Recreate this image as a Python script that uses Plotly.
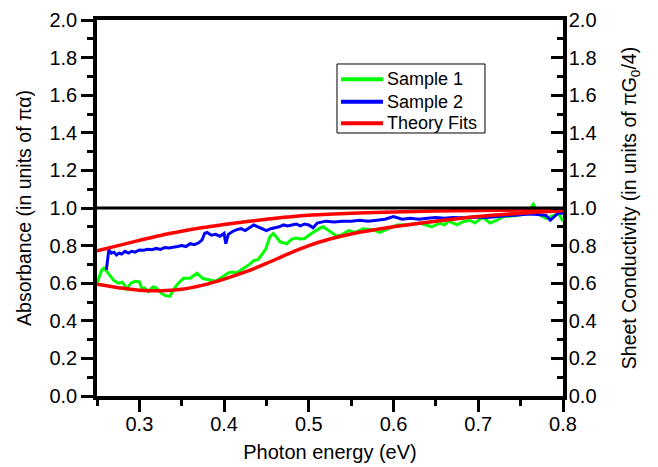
import plotly.graph_objects as go

# ---- data ----
green_x = [0.250, 0.253, 0.2555, 0.258, 0.262, 0.2693, 0.275, 0.280, 0.285, 0.290, 0.295, 0.300,
           0.303, 0.306, 0.3106, 0.316, 0.320, 0.326, 0.330, 0.336, 0.340, 0.346, 0.352, 0.360,
           0.368, 0.375, 0.383, 0.390, 0.400, 0.405, 0.410, 0.415, 0.420, 0.425, 0.430, 0.435,
           0.440, 0.445, 0.449, 0.454, 0.458, 0.462, 0.466, 0.470, 0.474, 0.480, 0.485, 0.490,
           0.495, 0.500, 0.505, 0.512, 0.517, 0.525, 0.533, 0.540, 0.547, 0.555, 0.564, 0.575,
           0.584, 0.594, 0.604, 0.615, 0.631, 0.645, 0.655, 0.660, 0.665, 0.675, 0.682, 0.690,
           0.696, 0.705, 0.714, 0.722, 0.730, 0.745, 0.757, 0.765, 0.770, 0.780, 0.788, 0.795, 0.800]
green_y = [0.60, 0.64, 0.67, 0.68, 0.66, 0.617, 0.60, 0.605, 0.57, 0.60, 0.61, 0.607,
           0.57, 0.575, 0.556, 0.58, 0.575, 0.547, 0.535, 0.53, 0.565, 0.60, 0.626, 0.626,
           0.653, 0.625, 0.617, 0.61, 0.64, 0.655, 0.66, 0.655, 0.67, 0.685, 0.70, 0.72,
           0.725, 0.755, 0.78, 0.847, 0.865, 0.845, 0.82, 0.815, 0.81, 0.835, 0.84, 0.835,
           0.838, 0.855, 0.87, 0.89, 0.90, 0.875, 0.85, 0.86, 0.88, 0.87, 0.89, 0.885,
           0.87, 0.89, 0.91, 0.91, 0.92, 0.90, 0.92, 0.91, 0.93, 0.91, 0.927, 0.935,
           0.92, 0.95, 0.92, 0.935, 0.955, 0.96, 0.97, 1.02, 0.97, 0.945, 0.96, 0.97, 0.93]

blue_x = [0.261, 0.2625, 0.264, 0.267, 0.270, 0.273, 0.276, 0.279, 0.283, 0.287, 0.291, 0.295,
          0.300, 0.305, 0.310, 0.315, 0.320, 0.325, 0.330, 0.335, 0.340, 0.345, 0.350, 0.355,
          0.360, 0.365, 0.370, 0.374, 0.377, 0.380, 0.385, 0.390, 0.395, 0.400, 0.402, 0.405,
          0.410, 0.415, 0.420, 0.425, 0.430, 0.435, 0.440, 0.445, 0.450, 0.455, 0.460, 0.465,
          0.470, 0.475, 0.480, 0.485, 0.490, 0.495, 0.500, 0.505, 0.510, 0.520, 0.530, 0.540,
          0.550, 0.560, 0.570, 0.580, 0.590, 0.600, 0.610, 0.620, 0.630, 0.640, 0.650, 0.660,
          0.670, 0.680, 0.690, 0.700, 0.710, 0.720, 0.730, 0.740, 0.750, 0.760, 0.770, 0.780,
          0.785, 0.790, 0.795, 0.800]
blue_y = [0.67, 0.74, 0.778, 0.76, 0.765, 0.75, 0.76, 0.755, 0.77, 0.76, 0.77, 0.765,
          0.777, 0.775, 0.78, 0.778, 0.785, 0.78, 0.79, 0.787, 0.79, 0.795, 0.80, 0.795,
          0.81, 0.805, 0.815, 0.83, 0.865, 0.87, 0.855, 0.86, 0.85, 0.865, 0.81, 0.86,
          0.875, 0.885, 0.89, 0.88, 0.895, 0.91, 0.90, 0.89, 0.88, 0.89, 0.895, 0.90,
          0.91, 0.905, 0.91, 0.915, 0.905, 0.915, 0.91, 0.895, 0.92, 0.93, 0.925, 0.93,
          0.93, 0.935, 0.93, 0.935, 0.94, 0.955, 0.94, 0.945, 0.94, 0.945, 0.95, 0.945,
          0.95, 0.948, 0.95, 0.952, 0.95, 0.955, 0.958, 0.96, 0.965, 0.968, 0.965, 0.96,
          0.935, 0.955, 0.975, 0.97]

fit_upper_x = [0.25, 0.275, 0.30, 0.325, 0.35, 0.375, 0.40, 0.425, 0.45, 0.475, 0.50, 0.55,
               0.60, 0.65, 0.70, 0.75, 0.80]
fit_upper_y = [0.772, 0.80, 0.828, 0.854, 0.876, 0.896, 0.912, 0.927, 0.94, 0.952, 0.962, 0.972,
               0.979, 0.984, 0.987, 0.989, 0.99]

fit_lower_x = [0.25, 0.275, 0.30, 0.325, 0.35, 0.375, 0.40, 0.425, 0.45, 0.475, 0.50, 0.525,
               0.55, 0.60, 0.65, 0.70, 0.75, 0.80]
fit_lower_y = [0.594, 0.576, 0.563, 0.560, 0.568, 0.590, 0.622, 0.66, 0.705, 0.755, 0.80, 0.835,
               0.862, 0.90, 0.93, 0.955, 0.972, 0.985]

ref_x = [0.25, 0.80]
ref_y = [1.0, 1.0]

series_names = ["Sample 1", "Sample 2", "Theory Fits"]
series_colors = ["#00ff00", "#0000ff", "#ff0000"]

FONT = "Liberation Sans, Arial, sans-serif"

fig = go.Figure()
fig.add_trace(go.Scatter(x=green_x, y=green_y, mode="lines", name=series_names[0],
                         line=dict(color=series_colors[0], width=3), showlegend=False))
fig.add_trace(go.Scatter(x=blue_x, y=blue_y, mode="lines", name=series_names[1],
                         line=dict(color=series_colors[1], width=3), showlegend=False))
fig.add_trace(go.Scatter(x=fit_upper_x, y=fit_upper_y, mode="lines", name=series_names[2],
                         line=dict(color=series_colors[2], width=3.5, shape="spline"),
                         legendgroup="fit", showlegend=False))
fig.add_trace(go.Scatter(x=fit_lower_x, y=fit_lower_y, mode="lines", name=series_names[2],
                         line=dict(color=series_colors[2], width=3.5, shape="spline"),
                         legendgroup="fit", showlegend=False))
fig.add_trace(go.Scatter(x=ref_x, y=ref_y, mode="lines", yaxis="y2", showlegend=False,
                         line=dict(color="black", width=3)))

# ---- legend box (drawn in paper coordinates) ----
leg_x0, leg_x1, leg_y0, leg_y1 = 0.515, 0.8326, 0.6995, 0.883
leg_line_x0, leg_line_x1, leg_text_x = 0.5236, 0.6137, 0.620
leg_rows = [0.8423, 0.7827, 0.7253]

shapes = [dict(type="rect", xref="paper", yref="paper", x0=leg_x0, x1=leg_x1, y0=leg_y0, y1=leg_y1,
               line=dict(color="black", width=1), fillcolor="white", layer="above")]
annotations = []
for name, color, ry in zip(series_names, series_colors, leg_rows):
    shapes.append(dict(type="line", xref="paper", yref="paper", x0=leg_line_x0, x1=leg_line_x1,
                       y0=ry, y1=ry, line=dict(color=color, width=4), layer="above"))
    annotations.append(dict(xref="paper", yref="paper", x=leg_text_x, y=ry, text=name,
                            showarrow=False, xanchor="left", yanchor="middle", borderpad=0,
                            font=dict(family=FONT, size=18, color="black")))

tickfont = dict(family=FONT, size=20, color="black")
titlefont = dict(family=FONT, size=19.5, color="black")

fig.update_layout(
    width=650, height=459,
    margin=dict(l=89, r=95, t=12, b=71, autoexpand=False),
    paper_bgcolor="white", plot_bgcolor="white",
    font=dict(family=FONT, color="black"),
    showlegend=False,
    shapes=shapes,
    annotations=annotations,
    xaxis=dict(
        range=[0.25, 0.8], tick0=0.3, dtick=0.1, tickformat=".1f", automargin=False,
        showline=True, linewidth=3.5, linecolor="black", mirror=True,
        ticks="outside", ticklen=12, tickwidth=3, tickcolor="black",
        minor=dict(dtick=0.05, tick0=0.25, ticks="outside", ticklen=6, tickwidth=3, tickcolor="black"),
        showgrid=False, zeroline=False, tickfont=tickfont, ticklabelstandoff=-5,
        title=dict(text="Photon energy (eV)", font=dict(family=FONT, size=20, color="black"), standoff=12),
    ),
    yaxis=dict(
        range=[0, 2], dtick=0.2, tickformat=".1f", automargin=False,
        showline=True, linewidth=3.5, linecolor="black",
        ticks="outside", ticklen=12, tickwidth=3, tickcolor="black",
        minor=dict(dtick=0.1, ticks="outside", ticklen=6, tickwidth=3, tickcolor="black"),
        showgrid=False, zeroline=False, tickfont=tickfont,
        title=dict(text="Absorbance (in units of πα)", font=titlefont, standoff=14),
    ),
    yaxis2=dict(
        range=[0, 2], dtick=0.2, tickformat=".1f", overlaying="y", side="right", anchor="x",
        automargin=False,
        showline=True, linewidth=3.5, linecolor="black",
        ticks="inside", ticklen=12, tickwidth=3, tickcolor="black",
        minor=dict(dtick=0.1, ticks="inside", ticklen=6, tickwidth=3, tickcolor="black"),
        showgrid=False, zeroline=False, tickfont=tickfont, ticklabelstandoff=-2,
        title=dict(text="Sheet Conductivity (in units of πG<sub>0</sub>/4)", font=titlefont, standoff=28),
    ),
)

fig.write_html("out.html")
